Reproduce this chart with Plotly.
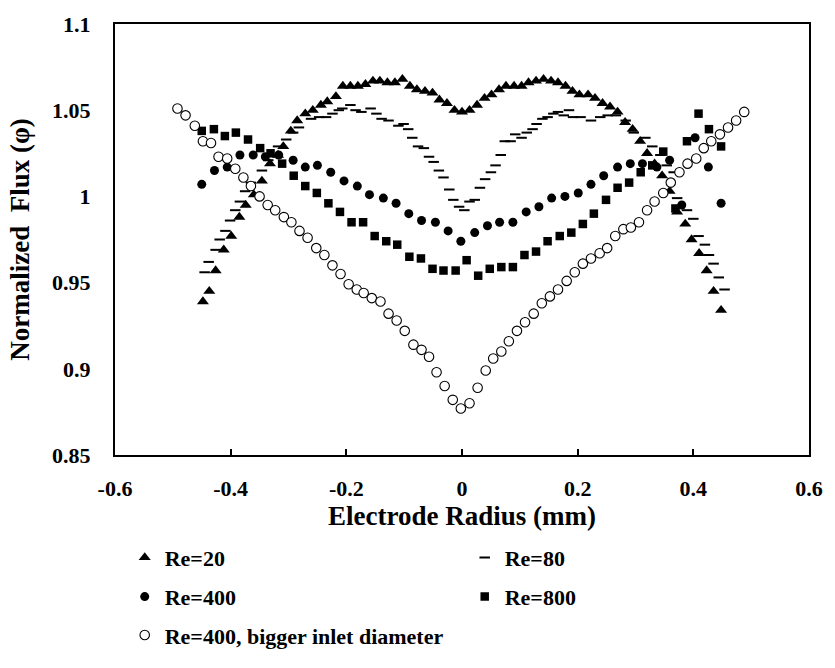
import plotly.graph_objects as go

# Electrode radius (mm) and normalized flux for each case
re20_x = [-0.448, -0.437, -0.426, -0.412, -0.399, -0.385, -0.374, -0.360, -0.346, -0.332,
          -0.318, -0.309, -0.296, -0.285, -0.271, -0.258, -0.244, -0.233, -0.218, -0.206,
          -0.193, -0.180, -0.167, -0.154, -0.142, -0.129, -0.116, -0.103, -0.090, -0.078,
          -0.064, -0.051, -0.039, -0.026, -0.013, 0.000, 0.013, 0.026, 0.039, 0.051,
          0.064, 0.076, 0.090, 0.103, 0.115, 0.128, 0.141, 0.154, 0.166, 0.179,
          0.191, 0.203, 0.218, 0.230, 0.243, 0.256, 0.269, 0.282, 0.295, 0.308,
          0.320, 0.333, 0.346, 0.359, 0.372, 0.386, 0.397, 0.410, 0.423, 0.435, 0.448]
re20_y = [0.939, 0.945, 0.957, 0.969, 0.977, 0.988, 0.995, 1.001, 1.009, 1.019,
          1.024, 1.029, 1.038, 1.044, 1.048, 1.050, 1.053, 1.055, 1.058, 1.064,
          1.064, 1.064, 1.065, 1.067, 1.067, 1.066, 1.066, 1.068, 1.064, 1.062,
          1.061, 1.060, 1.056, 1.054, 1.050, 1.049, 1.050, 1.053, 1.057, 1.059,
          1.062, 1.064, 1.064, 1.064, 1.066, 1.067, 1.068, 1.067, 1.066, 1.064,
          1.061, 1.059, 1.059, 1.057, 1.054, 1.052, 1.049, 1.043, 1.039, 1.032,
          1.025, 1.019, 1.012, 1.003, 0.991, 0.984, 0.975, 0.967, 0.957, 0.945, 0.934]

re80_x = [-0.445, -0.438, -0.426, -0.419, -0.409, -0.401, -0.392, -0.384, -0.375, -0.365,
          -0.346, -0.335, -0.318, -0.304, -0.292, -0.282, -0.261, -0.247, -0.235, -0.224,
          -0.213, -0.207, -0.193, -0.184, -0.174, -0.158, -0.148, -0.139, -0.127, -0.110,
          -0.101, -0.093, -0.086, -0.076, -0.066, -0.057, -0.049, -0.040, -0.032, -0.022,
          -0.015, -0.005, 0.004, 0.013, 0.022, 0.031, 0.040, 0.050, 0.058, 0.067,
          0.074, 0.084, 0.092, 0.103, 0.112, 0.122, 0.129, 0.139, 0.148, 0.158,
          0.166, 0.176, 0.185, 0.192, 0.205, 0.223, 0.239, 0.252, 0.266, 0.283,
          0.297, 0.317, 0.329, 0.343, 0.354, 0.366, 0.372, 0.389, 0.400, 0.409,
          0.420, 0.427, 0.435, 0.444, 0.454]
re80_y = [0.956, 0.962, 0.969, 0.975, 0.980, 0.986, 0.992, 0.997, 1.003, 1.008,
          1.015, 1.021, 1.029, 1.033, 1.037, 1.040, 1.045, 1.046, 1.046, 1.048,
          1.050, 1.051, 1.053, 1.050, 1.049, 1.051, 1.048, 1.045, 1.044, 1.041,
          1.042, 1.039, 1.034, 1.029, 1.028, 1.023, 1.020, 1.015, 1.011, 1.004,
          0.998, 0.994, 0.992, 0.997, 0.998, 1.005, 1.010, 1.014, 1.018, 1.024,
          1.032, 1.032, 1.036, 1.034, 1.037, 1.039, 1.042, 1.045, 1.046, 1.048,
          1.049, 1.047, 1.050, 1.046, 1.046, 1.044, 1.046, 1.047, 1.047, 1.044,
          1.037, 1.034, 1.029, 1.024, 1.018, 1.014, 0.999, 0.992, 0.987, 0.977,
          0.972, 0.966, 0.961, 0.953, 0.946]

re400_x = [-0.450, -0.428, -0.406, -0.384, -0.361, -0.340, -0.317, -0.292, -0.271, -0.250,
           -0.227, -0.204, -0.181, -0.160, -0.136, -0.114, -0.092, -0.070, -0.046, -0.024,
           -0.002, 0.022, 0.044, 0.065, 0.088, 0.111, 0.133, 0.155, 0.178, 0.201,
           0.223, 0.245, 0.269, 0.291, 0.312, 0.337, 0.359, 0.380, 0.403, 0.426, 0.448]
re400_y = [1.007, 1.015, 1.017, 1.024, 1.024, 1.023, 1.024, 1.021, 1.017, 1.018,
           1.014, 1.009, 1.006, 1.001, 0.999, 0.996, 0.990, 0.986, 0.985, 0.980,
           0.974, 0.979, 0.983, 0.985, 0.985, 0.991, 0.994, 0.999, 1.000, 1.002,
           1.007, 1.012, 1.017, 1.019, 1.019, 1.017, 1.021, 0.995, 1.034, 1.017, 0.996]

re800_x = [-0.450, -0.429, -0.410, -0.391, -0.370, -0.349, -0.331, -0.311, -0.291, -0.271,
           -0.251, -0.231, -0.211, -0.191, -0.171, -0.151, -0.131, -0.112, -0.091, -0.071,
           -0.051, -0.032, -0.011, 0.008, 0.028, 0.048, 0.068, 0.088, 0.108, 0.128,
           0.148, 0.169, 0.189, 0.209, 0.228, 0.249, 0.269, 0.289, 0.309, 0.329,
           0.348, 0.369, 0.389, 0.409, 0.427, 0.448]
re800_y = [1.038, 1.039, 1.035, 1.037, 1.033, 1.028, 1.025, 1.019, 1.012, 1.006,
           1.002, 0.996, 0.991, 0.985, 0.985, 0.977, 0.974, 0.972, 0.965, 0.964,
           0.958, 0.957, 0.957, 0.963, 0.954, 0.958, 0.959, 0.959, 0.966, 0.968,
           0.974, 0.977, 0.979, 0.984, 0.990, 0.998, 1.005, 1.008, 1.014, 1.018,
           1.026, 0.993, 1.032, 1.048, 1.039, 1.029]

big_x = [-0.492, -0.478, -0.462, -0.448, -0.434, -0.421, -0.406, -0.392, -0.378, -0.365,
         -0.350, -0.336, -0.323, -0.308, -0.295, -0.281, -0.267, -0.252, -0.238, -0.224,
         -0.210, -0.196, -0.182, -0.170, -0.156, -0.141, -0.127, -0.113, -0.099, -0.084,
         -0.070, -0.057, -0.044, -0.030, -0.016, -0.002, 0.013, 0.027, 0.041, 0.054,
         0.068, 0.081, 0.095, 0.109, 0.124, 0.138, 0.152, 0.166, 0.181, 0.195,
         0.209, 0.223, 0.238, 0.251, 0.265, 0.279, 0.292, 0.306, 0.320, 0.333,
         0.348, 0.361, 0.376, 0.390, 0.405, 0.418, 0.431, 0.446, 0.460, 0.474, 0.488]
big_y = [1.051, 1.047, 1.041, 1.032, 1.031, 1.023, 1.022, 1.016, 1.011, 1.006,
         1.000, 0.995, 0.992, 0.988, 0.985, 0.980, 0.976, 0.970, 0.966, 0.960,
         0.955, 0.949, 0.946, 0.944, 0.941, 0.939, 0.932, 0.928, 0.922, 0.914,
         0.911, 0.907, 0.898, 0.890, 0.882, 0.877, 0.880, 0.889, 0.899, 0.906,
         0.910, 0.916, 0.922, 0.927, 0.932, 0.938, 0.942, 0.946, 0.951, 0.956,
         0.961, 0.964, 0.967, 0.970, 0.977, 0.981, 0.982, 0.985, 0.992, 0.997,
         1.002, 1.008, 1.014, 1.019, 1.022, 1.028, 1.032, 1.036, 1.040, 1.044, 1.049]

x_ticks = [-0.6, -0.4, -0.2, 0, 0.2, 0.4, 0.6]
x_tick_text = ["-0.6", "-0.4", "-0.2", "0", "0.2", "0.4", "0.6"]
y_ticks = [0.85, 0.9, 0.95, 1.0, 1.05, 1.1]
y_tick_text = ["0.85", "0.9", "0.95", "1", "1.05", "1.1"]

FONT = "Liberation Serif, Times New Roman, serif"
BLACK = "#000000"
bold = lambda size: dict(family=FONT, size=size, color=BLACK, weight="bold")

fig = go.Figure()

fig.add_trace(go.Scatter(
    x=re20_x, y=re20_y, mode="markers", name="Re=20", legend="legend",
    marker=dict(symbol="triangle-up", size=10.5, color=BLACK, line=dict(width=0)),
))
fig.add_trace(go.Scatter(
    x=re80_x, y=re80_y, mode="markers", name="Re=80", legend="legend",
    marker=dict(symbol="line-ew", size=7.5, color=BLACK, line=dict(width=2, color=BLACK)),
))
fig.add_trace(go.Scatter(
    x=re400_x, y=re400_y, mode="markers", name="Re=400", legend="legend2",
    marker=dict(symbol="circle", size=9, color=BLACK, line=dict(width=0)),
))
fig.add_trace(go.Scatter(
    x=re800_x, y=re800_y, mode="markers", name="Re=800", legend="legend2",
    marker=dict(symbol="square", size=8.5, color=BLACK, line=dict(width=0)),
))
fig.add_trace(go.Scatter(
    x=big_x, y=big_y, mode="markers", name="Re=400, bigger inlet diameter",
    legend="legend3",
    marker=dict(symbol="circle", size=9.5, color="white", line=dict(width=1.1, color=BLACK)),
))

# Three one-row legends stacked under the x-axis title, two entries per row
legend_common = dict(
    orientation="h", xanchor="left", yanchor="middle", x=0.014,
    font=bold(22), bgcolor="rgba(0,0,0,0)", borderwidth=0,
    entrywidth=295, entrywidthmode="pixels", itemwidth=30,
)

fig.update_layout(
    width=835, height=668,
    margin=dict(l=115, r=19, t=15, b=203),
    paper_bgcolor="white", plot_bgcolor="white",
    font=dict(family=FONT, color=BLACK),
    showlegend=True,
    legend=dict(legend_common, y=-0.238),
    legend2=dict(legend_common, y=-0.329),
    legend3=dict(legend_common, y=-0.418),
    xaxis=dict(
        range=[-0.6, 0.6], tickvals=x_ticks, ticktext=x_tick_text,
        ticks="inside", ticklen=6, tickwidth=2, tickcolor=BLACK,
        showline=True, linewidth=2, linecolor=BLACK, mirror=True,
        showgrid=False, zeroline=False,
        tickfont=bold(22), ticklabelstandoff=13,
        title=dict(text="Electrode Radius (mm)", standoff=6, font=bold(27)),
    ),
    yaxis=dict(
        range=[0.85, 1.1], tickvals=y_ticks, ticktext=y_tick_text,
        ticks="", showline=True, linewidth=2, linecolor=BLACK, mirror=True,
        showgrid=False, zeroline=False,
        tickfont=bold(22), ticklabelstandoff=18,
        title=dict(text="Normalized  Flux (φ)", standoff=15, font=bold(27)),
    ),
)

fig.write_html("out.html")
